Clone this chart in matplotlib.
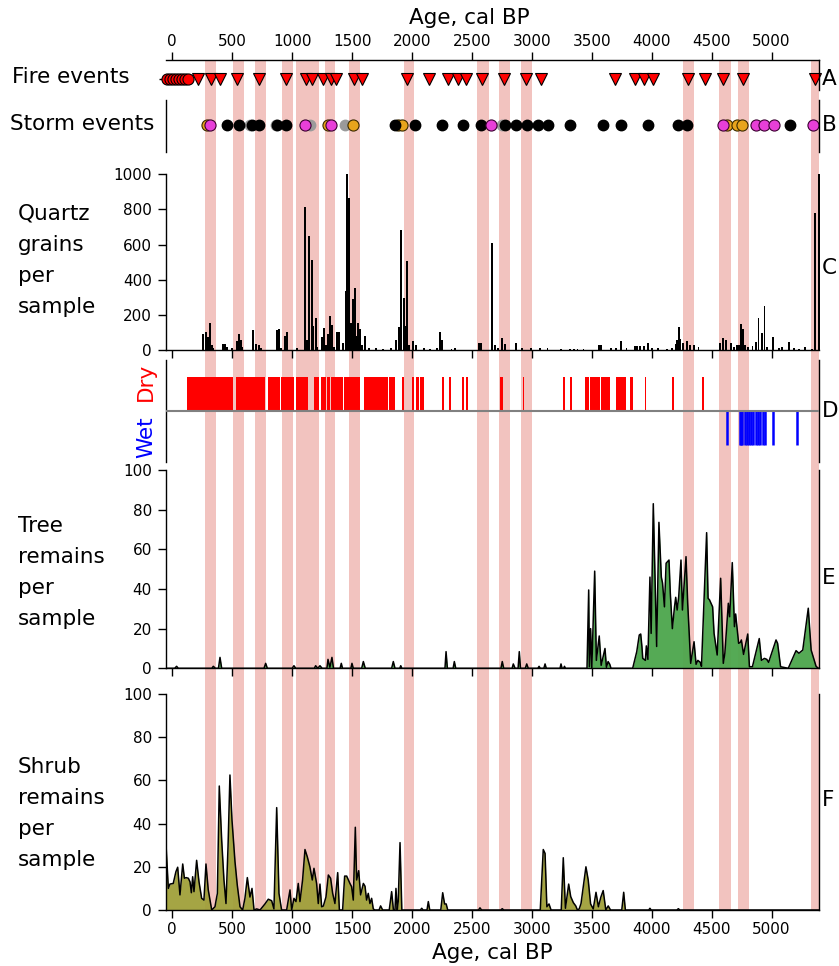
import numpy as np
import matplotlib.pyplot as plt

W, H = 839, 966

# shaded intervals (cal BP)
band_start = [275, 510, 690, 915, 1035, 1270, 1475, 1930, 2545, 2725, 2910, 4260, 4565, 4720, 5325]
band_end = [365, 600, 780, 1005, 1225, 1360, 1565, 2020, 2640, 2820, 3005, 4355, 4660, 4815, 5420]

# A - fire events
fire_recent = [-45, -20, 5, 30, 55, 80, 105, 130]
fire_events = [217, 320, 398, 542, 726, 949, 1113, 1163, 1260, 1321, 1366, 1516, 1580, 1961,
               2144, 2303, 2386, 2450, 2581, 2767, 2951, 3073, 3693, 3860, 3935, 4013, 4305,
               4444, 4597, 4764, 5362]

# B - storm events
storm_grey = [645, 862, 1149, 1441, 2748]
storm_orange = [292, 1296, 1510, 1886, 1914, 4625, 4714, 4751]
storm_black = [454, 556, 662, 726, 876, 949, 1858, 2025, 2248, 2423, 2573, 2776, 2868, 2957,
               3054, 3137, 3318, 3596, 3744, 3971, 4222, 4292, 5154]
storm_magenta = [315, 1107, 1321, 2655, 4597, 4867, 4939, 5020, 5348]

# C - quartz grains
q_age = [259, 279, 295, 315, 329, 342, 425, 440, 454, 500, 537, 556, 570, 585, 676, 696, 726, 740,
         871, 888, 910, 938, 957, 1040, 1110, 1124, 1143, 1163, 1177, 1196, 1210, 1246, 1266, 1284,
         1302, 1318, 1332, 1350, 1377, 1394, 1427, 1447, 1460, 1477, 1494, 1510, 1522, 1537, 1552,
         1566, 1585, 1605, 1640, 1700, 1760, 1825, 1864, 1894, 1911, 1931, 1944, 1958, 1975, 2011,
         2030, 2100, 2150, 2210, 2234, 2253, 2330, 2360, 2560, 2573, 2665, 2690, 2720, 2753, 2775,
         2868, 2920, 2990, 3070, 3130, 3240, 3320, 3350, 3380, 3430, 3560, 3575, 3660, 3700, 3744,
         3790, 3860, 3880, 3900, 3935, 3971, 4000, 4050, 4130, 4170, 4200, 4213, 4227, 4240, 4260,
         4292, 4320, 4350, 4390, 4570, 4592, 4617, 4660, 4685, 4710, 4730, 4742, 4764, 4780, 4800,
         4840, 4870, 4891, 4918, 4940, 4960, 5014, 5060, 5090, 5148, 5190, 5230, 5280, 5340, 5365,
         5393]
q_val = [91, 106, 74, 153, 30, 15, 34, 34, 20, 15, 53, 91, 58, 20, 113, 34, 30, 11,
         115, 119, 15, 83, 102, 11, 815, 58, 648, 514, 138, 185, 20, 78, 125, 30,
         91, 195, 144, 20, 106, 102, 40, 336, 1000, 862, 153, 291, 355, 83, 153,
         121, 30, 81, 11, 11, 8, 15, 58, 134, 682, 295, 136, 507, 30, 53,
         30, 12, 10, 12, 102, 59, 10, 12, 42, 43, 610, 30, 15, 68, 34,
         43, 12, 12, 12, 12, 10, 10, 10, 8, 8, 30, 30, 12, 12, 53,
         12, 25, 25, 25, 25, 40, 15, 15, 10, 12, 34, 59, 134, 64, 43,
         53, 28, 30, 20, 43, 68, 59, 40, 20, 28, 28, 149, 121, 30, 20,
         25, 47, 185, 96, 251, 21, 78, 15, 17, 47, 15, 10, 21, 10, 781,
         1000]

# D - dry / wet
dry_start = [126, 535, 800, 905, 1036, 1183, 1238, 1288, 1322, 1429, 1602, 1808, 1913, 1998, 2035,
             2068, 2248, 2310, 2420, 2452, 2732, 2923, 3258, 3318, 3441, 3484, 3545, 3575, 3698,
             3815, 3944, 4172, 4422]
dry_end = [510, 776, 897, 1018, 1136, 1220, 1283, 1317, 1422, 1568, 1796, 1858, 1933, 2016, 2058,
           2097, 2263, 2328, 2432, 2465, 2762, 2934, 3275, 3331, 3478, 3540, 3568, 3650, 3786,
           3841, 3955, 4182, 4433]
wet_ages = [4624, 4734, 4745, 4756, 4775, 4795, 4812, 4830, 4848, 4866, 4885, 4905, 4925, 4946,
            5012, 5211]

# E - tree remains
tree_age = [-55, 20, 36, 50, 330, 342, 360, 385, 398, 412, 765, 779, 793, 1000, 1015, 1030, 1185,
            1196, 1214, 1232, 1250, 1290, 1299, 1315, 1332, 1345, 1400, 1410, 1420, 1490, 1499,
            1510, 1580, 1594, 1610, 1830, 1844, 1858, 1898, 1906, 1915, 2275, 2284, 2295, 2343,
            2353, 2365, 2742, 2753, 2765, 2835, 2845, 2860, 2885, 2895, 2905, 2945, 2957, 2970,
            3050, 3060, 3070, 3100, 3110, 3120, 3235, 3243, 3252, 3265, 3272, 3280,
            3460, 3474, 3480, 3490, 3500, 3524, 3538, 3562, 3578, 3610, 3622, 3636, 3650, 3660,
            3841, 3875, 3896, 3908, 3918, 3925, 3947, 3955, 3968, 3985, 3995, 4013, 4041, 4060,
            4080, 4090, 4106, 4120, 4144, 4155, 4172, 4190, 4200, 4212, 4225, 4244, 4256, 4286,
            4300, 4325, 4353, 4370, 4385, 4405, 4415, 4458, 4470, 4482, 4508, 4520, 4546, 4575,
            4597, 4610, 4639, 4650, 4672, 4690, 4700, 4725, 4738, 4748, 4766, 4801, 4815, 4840,
            4897, 4915, 4940, 4960, 4975, 5037, 5050, 5075, 5139, 5204, 5228, 5260, 5306, 5330,
            5371, 5390, 5400]
tree_val = [0, 0, 1, 0, 0, 1, 0, 0, 5.5, 0, 0, 2.5, 0, 0, 1.3, 0, 0,
            1.3, 0, 1.3, 0, 0, 4.5, 0.5, 5.5, 0, 0, 2.5, 0, 0, 2.5,
            0, 0, 3.4, 0, 0, 3.4, 0, 0, 1.3, 0, 0, 8.4, 0, 0,
            3.4, 0, 0, 3.4, 0, 0, 2.2, 0, 0, 8.4, 0, 0, 2.2, 0,
            0, 1, 0, 0, 2.2, 0, 0, 2.2, 0, 0, 1, 0,
            0, 39.5, 0.8, 20, 0, 49, 4, 16.3, 1.5, 10, 0.5, 3.4, 2, 0,
            0, 8.4, 16.8, 17.3, 11, 5, 4, 11.3, 4.5, 46, 17.6, 83, 11, 73.6,
            46, 43, 31, 53, 54.6, 37.8, 20, 31, 35.8, 29.4, 36, 54.6, 29.4, 56.3,
            32.8, 2.5, 13.4, 2, 4, 3, 1, 68.4, 35.3, 34.5, 31, 17.6, 6.7, 45.4,
            2.5, 7.6, 32.8, 26, 53.3, 21, 27.4, 12.6, 13, 14.3, 7, 17.3, 0.8, 0.8,
            15, 4, 5, 4.5, 3, 14.3, 12.6, 0.8, 0, 8.9, 7.6, 9.2, 30.3, 9.2,
            1, 0, 0]

# F - shrub remains
shrub_age = [-55, -33, -20, 8, 30, 45, 64, 87, 101, 115, 134, 148, 159, 170, 181, 203, 223, 245,
             264, 281, 300, 329, 356, 376, 392, 412, 431, 448, 465, 481, 498, 523, 542, 565, 587,
             606, 626, 648, 665, 682, 704, 732, 773, 801, 829, 848, 871, 890, 912, 954, 982, 996,
             1015, 1032, 1051, 1065, 1087, 1107, 1126, 1148, 1168, 1182, 1204, 1218, 1232, 1246,
             1260, 1282, 1302, 1321, 1338, 1357, 1380, 1394, 1421, 1438, 1455, 1482, 1496, 1510,
             1527, 1538, 1555, 1571, 1594, 1608, 1621, 1635, 1649, 1663, 1677, 1690, 1725, 1738,
             1755, 1810, 1830, 1845, 1858, 1866, 1877, 1885, 1900, 1915, 2070, 2081, 2092, 2125,
             2136, 2148, 2240, 2256, 2272, 2285, 2298, 2555, 2567, 2580, 2740, 2753, 2765, 3070,
             3095, 3110, 3125, 3143, 3160, 3245, 3262, 3280, 3307, 3324, 3346, 3366, 3380, 3395,
             3410, 3451, 3470, 3490, 3512, 3535, 3555, 3575, 3595, 3617, 3637, 3656, 3750, 3766,
             3780, 3975, 3985, 3995, 4210, 4222, 4235, 5400]
shrub_val = [33, 10, 12, 12.3, 17.7, 19.8, 7, 21.3, 14.7, 15, 14.7, 13, 8, 15.4, 8.5, 23, 13, 5.4,
             4.6, 21.3, 9.3, 0, 1.5, 7.7, 57.4, 32.4, 13.9, 3, 29.3, 62.5, 41.7, 22.4, 11.6, 1.5, 0,
             5.4, 15, 6, 10, 0, 0.5, 0, 2.8, 5, 4.3, 0.5, 47.4, 7.7, 0, 0, 9.3, 0,
             5.4, 3.9, 12.3, 3.9, 13.9, 28, 24.7, 20, 13.9, 19.3, 12.3, 3, 12, 1.5,
             1.8, 6, 16.2, 14.7, 7.7, 3, 17.3, 0, 0, 15.7, 15.7, 12.3, 10.8, 4.6,
             38.3, 13.9, 18.2, 7, 12.3, 11, 4.6, 7.7, 3, 5.4, 0.5, 0, 0, 1.9,
             0, 0, 8.5, 0, 0, 10, 0, 4, 31.2, 0, 0, 0.8, 0, 0,
             3.9, 0, 0, 8, 2.8, 2.8, 0, 0, 1, 0, 0, 0.6, 0, 0,
             28, 26.2, 1.5, 2.8, 0, 0, 24.2, 0.8, 12, 6.2, 3.4, 1.9, 0, 0.5,
             3, 20, 13.9, 2.8, 0.5, 8.2, 1.5, 5.9, 9, 0, 1.9, 0, 0, 8.2,
             0, 0, 0.8, 0, 0, 0.6, 0, 0]

band_col = '#f2c3bf'
tree_col = '#4ca64c'
shrub_col = '#a0a03a'
X0, X1 = 165.7, 819.3
XL = (-55, 5398)
xt = np.arange(0, 5001, 500)
LAB = 15.5
TICK = 11


def px(x0, y0, x1, y1):
    return [x0 / W, 1 - y1 / H, (x1 - x0) / W, (y1 - y0) / H]


def clean(ax, show):
    for s in ['left', 'right', 'top', 'bottom']:
        ax.spines[s].set_visible(s in show)
        ax.spines[s].set_linewidth(1.0)
    ax.set_facecolor('none')
    ax.set_xlim(XL)
    ax.tick_params(direction='out', length=6, width=1, labelsize=TICK, pad=2)
    ax.tick_params(axis='y', pad=4)


fig = plt.figure(figsize=(W / 100, H / 100), dpi=100)

# background bands through all panels
bg = fig.add_axes(px(X0, 60, X1, 910))
bg.set_xlim(XL)
bg.set_ylim(0, 1)
bg.axis('off')
for a, b in zip(band_start, band_end):
    bg.axvspan(a, b, color=band_col, lw=0)

# A: fire events
axA = fig.add_axes(px(X0, 60, X1, 90))
clean(axA, ['top', 'right'])
axA.set_ylim(0, 1)
axA.xaxis.set_ticks_position('top')
axA.set_xticks(xt)
axA.set_yticks([0.37])
axA.tick_params(axis='y', labelleft=False, length=5)
axA.plot(fire_recent, [0.37] * len(fire_recent), 'o', ms=8, mfc='red', mec='black', mew=0.8, clip_on=False)
axA.plot(fire_events, [0.37] * len(fire_events), 'v', ms=8.5, mfc='red', mec='black', mew=0.8, clip_on=False)

# B: storm events
axB = fig.add_axes(px(X0, 100, X1, 152))
clean(axB, ['left', 'right'])
axB.set_ylim(0, 1)
axB.set_xticks([])
axB.set_yticks([])
yB = 0.52
axB.plot(storm_grey, [yB] * len(storm_grey), 'o', ms=7.5, mfc='#9a9a9a', mec='#9a9a9a', clip_on=False)
axB.plot(storm_orange, [yB] * len(storm_orange), 'o', ms=8, mfc='#e8a41c', mec='#3a2a00', mew=0.8, clip_on=False)
axB.plot(storm_black, [yB] * len(storm_black), 'o', ms=7.5, mfc='black', mec='black', clip_on=False)
axB.plot(storm_magenta, [yB] * len(storm_magenta), 'o', ms=8, mfc='#e83fd8', mec='#3a0030', mew=0.8, clip_on=False)

# C: quartz grains
axC = fig.add_axes(px(X0, 174, X1, 350.3))
clean(axC, ['left', 'bottom'])
axC.bar(q_age, q_val, width=15, color='black', lw=0, clip_on=False)
axC.set_ylim(0, 1000)
axC.set_yticks(range(0, 1001, 200))
axC.set_xticks(xt)
axC.tick_params(axis='x', labelbottom=False)

# D: dry / wet
axD = fig.add_axes(px(X0, 360, X1, 462))
clean(axD, ['left', 'right'])
axD.set_ylim(-1.5, 1.5)
axD.set_xticks([])
axD.set_yticks([])
axD.bar(dry_start, 1, width=np.array(dry_end) - np.array(dry_start), bottom=0, align='edge', color='red', lw=0)
axD.vlines(wet_ages, -1, 0, color='blue', lw=1.8)
axD.axhline(0, color='#808080', lw=1.5, zorder=5)

# E: tree remains
axE = fig.add_axes(px(X0, 470, X1, 668.3))
clean(axE, ['left', 'bottom', 'right'])
axE.fill_between(tree_age, tree_val, 0, color=tree_col, alpha=0.95, lw=0)
axE.plot(tree_age, tree_val, color='black', lw=1.1)
axE.set_ylim(0, 100)
axE.set_yticks(range(0, 101, 20))
axE.set_xticks(xt)
axE.tick_params(axis='x', labelbottom=False)

# F: shrub remains
axF = fig.add_axes(px(X0, 694, X1, 910))
clean(axF, ['left', 'bottom', 'right'])
axF.fill_between(shrub_age, shrub_val, 0, color=shrub_col, alpha=0.95, lw=0)
axF.plot(shrub_age, shrub_val, color='black', lw=1.1)
axF.set_ylim(0, 100)
axF.set_yticks(range(0, 101, 20))
axF.set_xticks(xt)
axF.tick_params(axis='x', pad=3)

# texts
def ft(x, y, s, **kw):
    fig.text(x / W, 1 - y / H, s, fontsize=kw.pop('fontsize', LAB), **kw)

ft(469, 18, 'Age, cal BP', ha='center', va='center')
ft(492, 953, 'Age, cal BP', ha='center', va='center')
ft(12, 77, 'Fire events', va='center')
ft(10, 124, 'Storm events', va='center')
for i, s in enumerate(['Quartz', 'grains', 'per', 'sample']):
    ft(18, 214 + 31 * i, s, va='center')
for i, s in enumerate(['Tree', 'remains', 'per', 'sample']):
    ft(18, 526 + 31 * i, s, va='center')
for i, s in enumerate(['Shrub', 'remains', 'per', 'sample']):
    ft(18, 767 + 31 * i, s, va='center')
ft(146, 382, 'Dry', color='red', rotation=90, ha='center', va='center')
ft(146, 437, 'Wet', color='blue', rotation=90, ha='center', va='center')
for s, y in zip('ABCDEF', [79, 125, 268, 411, 578, 800]):
    ft(822, y, s, va='center')

fig.savefig('out.png', dpi=100)
